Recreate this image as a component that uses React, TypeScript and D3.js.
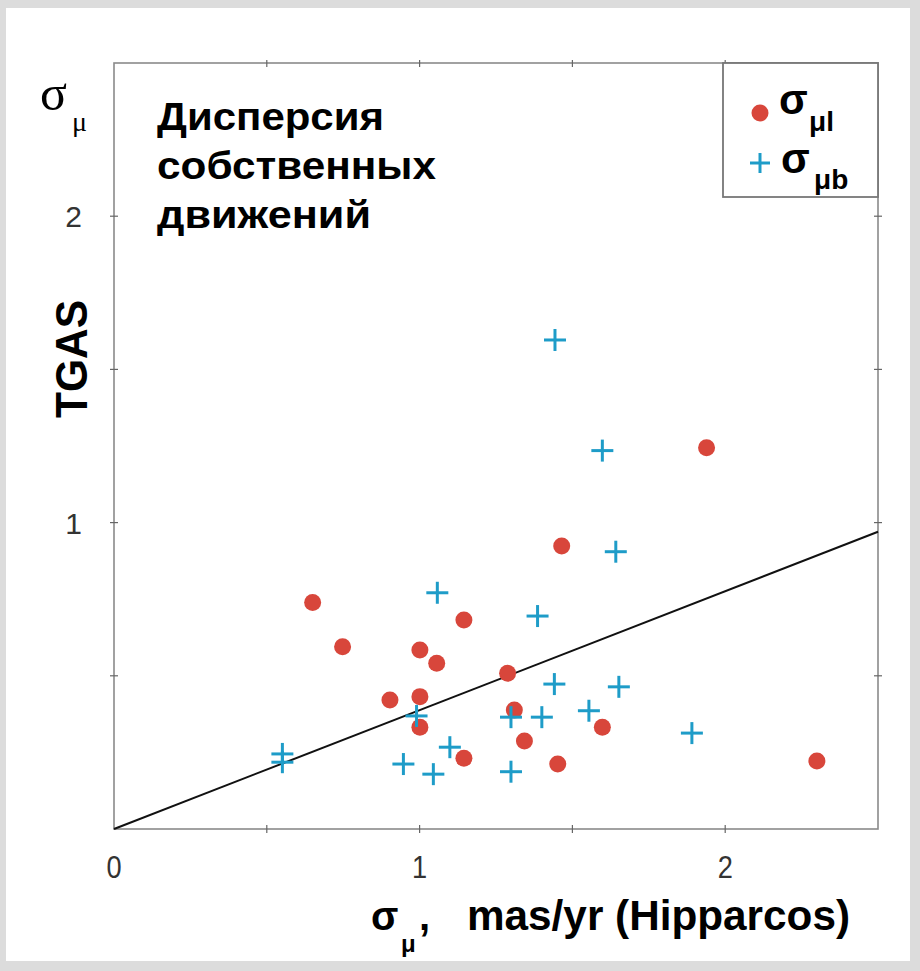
import React from "react";
import * as d3 from "d3";

const redX = [0.65, 0.748, 1.001, 1.056, 1.145, 0.903, 1.001, 1.001, 1.145, 1.288, 1.31, 1.343, 1.452, 1.598, 1.465, 1.939, 2.3];
const redY = [0.739, 0.595, 0.584, 0.541, 0.682, 0.421, 0.432, 0.332, 0.231, 0.508, 0.388, 0.287, 0.212, 0.332, 0.924, 1.244, 0.222];
const blueX = [0.551, 0.551, 0.947, 0.99, 1.045, 1.058, 1.099, 1.299, 1.299, 1.386, 1.4, 1.441, 1.443, 1.554, 1.598, 1.642, 1.652, 1.891];
const blueY = [0.245, 0.218, 0.212, 0.369, 0.179, 0.771, 0.267, 0.365, 0.187, 0.695, 0.365, 0.473, 1.596, 0.386, 1.235, 0.905, 0.464, 0.313];
const xTickLabels = [0, 1, 2];
const yTickLabels = [1, 2];
const minorTicks = [0.5, 1, 1.5, 2];
const fitSlope = 0.388;
const titleLines = ["Дисперсия", "собственных", "движений"];

const W = 920;
const H = 971;
const L = 114, R = 878, T = 63, B = 829;

export default function App() {
  const x = d3.scaleLinear().domain([0, 2.5]).range([L, R]);
  const y = d3.scaleLinear().domain([0, 2.5]).range([B, T]);
  const red = redX.map((v, i) => [v, redY[i]]);
  const blue = blueX.map((v, i) => [v, blueY[i]]);
  const line = d3.line<number[]>().x(d => x(d[0])).y(d => y(d[1]));
  const fit = [[0, 0], [2.5, 2.5 * fitSlope]];
  const sans = "'Liberation Sans', Arial, sans-serif";
  const serif = "'Liberation Serif', 'Times New Roman', serif";
  const frame = "#8a8a8a";
  const blueC = "#1e9cc8";
  const redC = "#d8463b";
  const titleW = [227, 279, 214];
  return (
    <svg width={W} height={H} style={{ position: "absolute", left: 0, top: 0 }}>
      <rect x={0} y={0} width={W} height={H} fill="#dcdcdc" />
      <rect x={6} y={8} width={W - 16} height={H - 18} fill="#ffffff" />
      {/* frame */}
      <rect x={L} y={T} width={R - L} height={B - T} fill="none" stroke={frame} strokeWidth={1.6} />
      {/* ticks */}
      {minorTicks.map(t => (
        <g key={"tx" + t} stroke="#666" strokeWidth={1.2}>
          <line x1={x(t)} x2={x(t)} y1={B - 4} y2={B + 4} />
          <line x1={x(t)} x2={x(t)} y1={T - 3} y2={T + 4} />
          <line x1={L - 4} x2={L + 4} y1={y(t)} y2={y(t)} />
          <line x1={R - 4} x2={R + 4} y1={y(t)} y2={y(t)} />
        </g>
      ))}
      {xTickLabels.map(t => (
        <text key={"xl" + t} x={x(t)} y={878} textAnchor="middle" fontFamily={sans} fontSize={32} fill="#333" transform={`translate(${x(t)},0) scale(0.85,1) translate(${-x(t)},0)`}>{t}</text>
      ))}
      {yTickLabels.map(t => (
        <text key={"yl" + t} x={82} y={y(t) + 11} textAnchor="end" fontFamily={sans} fontSize={30} fill="#333">{t}</text>
      ))}
      {/* fit line */}
      <path d={line(fit) || ""} stroke="#111" strokeWidth={2} fill="none" />
      {/* points */}
      {red.map((d, i) => (
        <circle key={"r" + i} cx={x(d[0])} cy={y(d[1])} r={8.5} fill={redC} />
      ))}
      {blue.map((d, i) => (
        <g key={"b" + i} stroke={blueC} strokeWidth={3}>
          <line x1={x(d[0]) - 11} x2={x(d[0]) + 11} y1={y(d[1])} y2={y(d[1])} />
          <line x1={x(d[0])} x2={x(d[0])} y1={y(d[1]) - 11} y2={y(d[1]) + 11} />
        </g>
      ))}
      {/* title */}
      {titleLines.map((s, i) => (
        <text key={"t" + i} x={157} y={130 + i * 49} fontFamily={sans} fontWeight="bold" fontSize={39} fill="#000" textLength={titleW[i]} lengthAdjust="spacingAndGlyphs">{s}</text>
      ))}
      {/* y label */}
      <text x={40} y={110} fontFamily={serif} fontSize={50} fill="#000">σ</text>
      <text x={72} y={131} fontFamily={serif} fontSize={28} fill="#000">μ</text>
      <text transform="translate(87,359) rotate(-90)" textAnchor="middle" fontFamily={sans} fontWeight="bold" fontSize={45} fill="#000" textLength={118} lengthAdjust="spacingAndGlyphs">TGAS</text>
      {/* x label */}
      <text x={371} y={930} fontFamily={sans} fontWeight="bold" fontSize={40} fill="#000">σ</text>
      <text x={401} y={952} fontFamily={sans} fontWeight="bold" fontSize={24} fill="#000">μ</text>
      <text x={419} y={930} fontFamily={sans} fontWeight="bold" fontSize={40} fill="#000">,</text>
      <text x={467} y={930} fontFamily={sans} fontWeight="bold" fontSize={42} fill="#000" textLength={383} lengthAdjust="spacingAndGlyphs">mas/yr (Hipparcos)</text>
      {/* legend */}
      <rect x={723} y={T} width={R - 723} height={197 - T} fill="#fff" stroke="#777" strokeWidth={1.8} />
      <circle cx={760} cy={113} r={8.5} fill={redC} />
      <text x={779} y={114} fontFamily={sans} fontWeight="bold" fontSize={42} fill="#000">σ</text>
      <text x={809} y={131} fontFamily={sans} fontWeight="bold" fontSize={28} fill="#000">μl</text>
      <g stroke={blueC} strokeWidth={3}>
        <line x1={750} x2={770} y1={163} y2={163} />
        <line x1={760} x2={760} y1={153} y2={173} />
      </g>
      <text x={781} y={173} fontFamily={sans} fontWeight="bold" fontSize={42} fill="#000">σ</text>
      <text x={814} y={189} fontFamily={sans} fontWeight="bold" fontSize={28} fill="#000">μb</text>
    </svg>
  );
}
